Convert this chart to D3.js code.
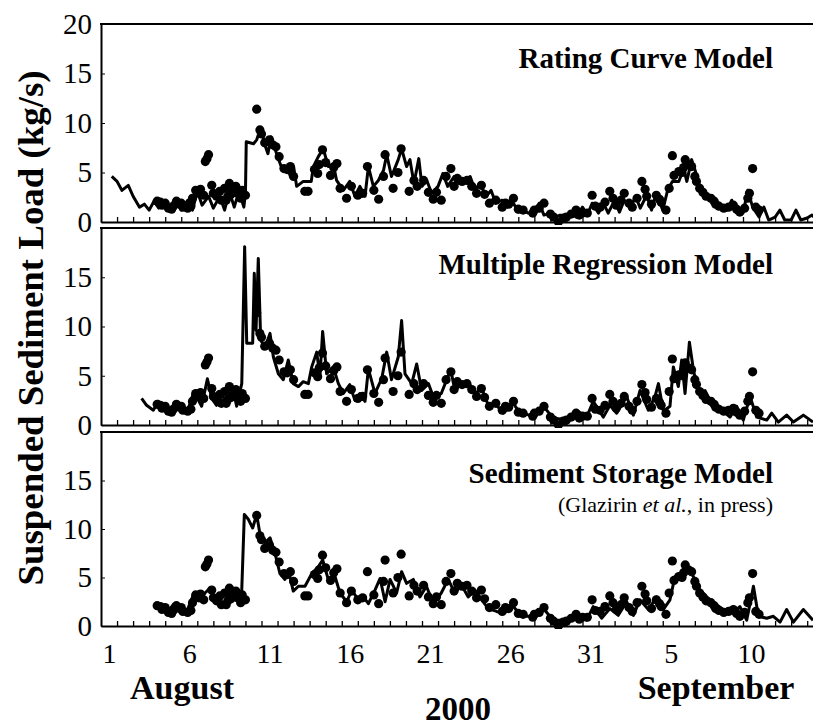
<!DOCTYPE html>
<html>
<head>
<meta charset="utf-8">
<script src="https://cdn.jsdelivr.net/npm/d3@7"></script>
<style>
  body { margin: 0; background: #fff; }
  text { font-family: "Liberation Serif", "Times New Roman", serif; }
</style>
</head>
<body>
<div id="chart"></div>
<script>
// time axis: days since 1 August 2000, 00:00
var dayLabels = ["1", "6", "11", "16", "21", "26", "31", "5", "10"];
var dayLabelT = [0.5, 5.5, 10.5, 15.5, 20.5, 25.5, 30.5, 35.5, 40.5];
var monthLabels = ["August", "September"];
var yearLabel = "2000";
var yTitle = "Suspended Sediment Load (kg/s)";

var panelTitles = ["Rating Curve Model", "Multiple Regression Model", "Sediment Storage Model"];
var panelTicks = [[0, 5, 10, 15, 20], [0, 5, 10, 15], [0, 5, 10, 15]];

// observed load [day, kg/s] (dots, same in all panels)
var observed = [
  [3.5,2.1],[3.7,2.0],[3.8,1.7],[4.0,1.9],[4.2,1.4],[4.4,1.3],[4.5,1.6],[4.7,2.1],[4.9,1.8],[5.0,1.9],
  [5.1,1.5],[5.4,1.4],[5.6,1.6],[5.7,2.4],[5.9,3.2],[6.1,2.9],[6.2,3.3],[6.4,2.7],[6.5,6.1],[6.6,6.4],
  [6.7,6.8],[6.9,3.7],[7.0,2.9],[7.2,2.6],[7.4,3.1],[7.5,2.2],[7.7,3.4],[7.8,2.2],[7.9,2.6],[8.0,3.9],
  [8.1,2.8],[8.2,3.1],[8.3,3.4],[8.4,3.6],[8.5,2.9],[8.7,2.4],[8.8,3.2],[9.0,2.7],
  [9.7,11.4],[9.9,9.3],[10.0,8.9],[10.2,8.0],[10.5,8.3],[10.7,7.8],[10.9,7.6],[11.1,6.6],[11.4,5.4],
  [11.6,5.3],[11.8,5.6],[12.0,4.6],[12.7,3.1],[12.9,3.1],[13.3,5.3],[13.5,4.9],[13.6,5.8],[13.8,7.3],
  [14.0,6.0],[14.3,4.7],[14.5,5.5],[14.7,5.9],[14.9,3.4],[15.3,2.4],[15.6,3.6],[16.0,2.7],[16.3,2.9],
  [16.6,5.6],[17.0,3.2],[17.3,2.3],[17.6,4.6],[17.7,6.8],[18.2,3.4],[18.5,5.0],[18.7,7.4],[19.2,3.1],
  [19.5,4.2],[19.7,3.6],[20.1,4.2],[20.4,3.0],[20.7,2.3],[20.9,3.0],[21.2,2.2],[21.5,4.6],[21.8,5.4],
  [22.0,3.6],[22.2,4.4],[22.5,4.1],[22.8,4.2],[23.1,3.6],[23.4,2.9],[23.7,3.7],[23.9,2.8],[24.2,1.9],
  [24.6,2.2],[25.0,1.5],[25.2,1.9],[25.4,1.8],[25.7,2.4],[26.0,1.3],[26.3,1.2],[26.9,0.9],[27.0,1.2],
  [27.3,1.4],[27.6,1.9],[28.0,0.8],[28.2,0.5],[28.5,0.0],[28.8,0.4],[29.0,0.5],[29.3,0.8],[29.6,1.2],
  [29.8,0.7],[30.0,0.9],[30.3,0.9],[30.6,2.7],[30.8,1.6],[31.1,1.5],[31.4,2.0],[31.7,3.1],[31.9,2.4],
  [32.1,1.7],[32.4,2.2],[32.6,2.9],[32.9,1.9],[33.1,1.5],[33.4,2.4],[33.7,4.1],[33.9,3.3],[34.0,2.6],
  [34.3,1.8],[34.6,2.7],[34.8,2.3],[34.9,2.0],[35.2,1.2],[35.4,3.4],[35.6,6.7],[35.7,4.7],[36.0,5.1],
  [36.2,5.0],[36.3,5.5],[36.4,6.3],[36.6,5.8],[36.8,5.6],[37.0,4.6],[37.1,4.1],[37.3,3.4],[37.5,3.0],
  [37.7,2.6],[38.0,2.4],[38.2,2.1],[38.3,1.8],[38.5,1.6],[38.8,1.4],[39.1,1.5],[39.4,1.7],[39.6,1.3],
  [39.8,1.0],[40.1,1.4],[40.3,2.4],[40.4,2.9],[40.6,5.4],[40.8,1.5],[41.0,1.2]
];

// modelled load [day, kg/s]
var ratingCurve = [
  [0.67,4.6],[1.0,4.1],[1.3,3.2],[1.7,3.7],[2.0,2.6],[2.4,1.5],[2.7,1.8],[3.0,1.2],[3.3,2.1],[3.6,1.4],
  [4.0,2.1],[4.3,1.2],[4.7,2.2],[5.0,1.2],[5.4,2.2],[5.7,1.2],[6.0,3.1],[6.3,1.7],[6.7,2.6],[7.0,1.4],
  [7.4,2.6],[7.7,1.2],[8.0,3.1],[8.3,1.5],[8.6,3.1],[8.9,1.5],[9.0,2.9],[9.05,8.1],[9.5,7.9],[9.7,8.3],
  [9.95,9.5],[10.25,7.6],[10.4,6.9],[10.6,8.6],[10.8,7.6],[11.0,6.6],[11.3,5.3],[11.6,5.6],[11.8,4.6],
  [12.0,5.6],[12.19,3.6],[12.6,4.1],[13.1,4.1],[13.23,5.6],[13.54,6.6],[13.85,7.4],[14.16,5.6],[14.47,5.9],
  [14.68,4.2],[15.1,3.2],[15.5,4.1],[15.82,2.6],[16.13,3.6],[16.45,2.6],[16.66,5.6],[16.97,3.6],[17.28,4.2],
  [17.6,5.2],[17.8,6.8],[18.1,4.6],[18.52,6.3],[18.73,7.4],[19.04,5.6],[19.25,6.3],[19.5,3.9],[19.8,6.4],
  [20.0,3.6],[20.3,4.2],[20.6,2.9],[21.0,3.6],[21.3,4.9],[21.6,3.6],[22.0,4.6],[22.3,3.9],[22.6,4.2],
  [23.0,4.6],[23.3,3.2],[23.6,3.9],[24.0,2.6],[24.3,3.2],[24.6,1.9],[25.0,2.2],[25.3,1.5],[25.6,2.2],
  [26.0,1.0],[26.3,1.2],[26.6,0.9],[27.0,0.9],[27.3,1.9],[27.6,0.7],[28.0,0.9],[28.3,0.5],[28.6,0.7],
  [29.0,0.5],[29.3,0.9],[29.6,0.5],[30.0,1.5],[30.3,0.7],[30.6,1.9],[31.0,0.9],[31.3,1.9],[31.6,0.9],
  [32.0,2.2],[32.3,1.0],[32.6,2.2],[33.0,1.4],[33.3,2.6],[33.6,1.4],[34.0,2.7],[34.3,1.2],[34.6,2.9],
  [35.0,1.2],[35.3,3.2],[35.6,4.1],[36.0,4.1],[36.3,5.4],[36.5,4.1],[36.8,6.3],[37.0,5.3],[37.3,3.6],
  [37.6,3.1],[38.0,2.2],[38.3,1.9],[38.6,1.5],[39.0,1.2],[39.3,2.2],[39.6,0.9],[40.0,0.9],[40.3,3.2],
  [40.6,1.5],[41.0,0.5],[41.3,1.5],[41.6,0.2],[42.0,0.5],[42.3,1.2],[42.6,0.2],[43.0,0.2],[43.3,1.2],
  [43.6,0.2],[44.0,0.4],[44.3,0.7],[44.6,0.2]
];

var multipleRegression = [
  [2.53,2.7],[2.84,2.0],[3.26,1.5],[3.57,2.4],[3.88,1.7],[4.19,1.2],[4.6,2.2],[5.03,1.5],[5.34,1.2],
  [5.75,3.2],[6.07,2.5],[6.27,1.9],[6.63,4.7],[6.9,2.7],[7.2,2.0],[7.52,3.0],[7.83,2.4],[8.25,3.5],
  [8.45,1.9],[8.77,4.2],[8.95,18.1],[9.08,8.3],[9.28,8.3],[9.45,8.3],[9.55,15.4],[9.66,9.6],[9.8,16.9],
  [9.95,8.6],[10.22,7.9],[10.53,9.3],[10.74,6.9],[11.05,5.2],[11.36,4.6],[11.67,6.6],[11.98,4.2],
  [12.3,3.9],[12.6,4.4],[12.92,4.2],[13.13,5.9],[13.44,7.4],[13.64,4.9],[13.81,9.5],[14.06,5.2],
  [14.47,5.9],[14.79,4.2],[15.1,3.2],[15.5,4.1],[15.82,2.5],[16.13,3.2],[16.45,2.4],[16.66,5.7],
  [17.07,3.2],[17.49,4.7],[17.8,7.4],[18.1,4.6],[18.52,6.9],[18.73,10.6],[18.94,5.2],[19.36,4.2],
  [19.67,6.2],[19.98,3.5],[20.4,4.2],[20.7,2.9],[21.2,3.2],[21.54,4.6],[21.79,5.6],[22.05,3.5],
  [22.47,4.2],[22.88,4.4],[23.3,3.2],[23.72,3.7],[24.13,2.0],[24.65,2.0],[25.07,1.2],[25.69,2.2],
  [26.1,1.2],[26.73,1.0],[27.56,1.9],[28.18,0.7],[29.01,0.5],[29.63,1.5],[30.26,0.8],[30.67,2.4],
  [31.3,0.8],[31.71,2.0],[32.13,1.2],[32.75,2.9],[33.17,1.0],[33.58,3.5],[34.1,1.5],[34.52,2.9],
  [34.73,4.2],[35.04,1.4],[35.45,1.9],[35.66,5.9],[35.97,3.9],[36.18,6.6],[36.39,3.2],[36.66,8.4],
  [36.91,5.6],[37.22,3.2],[37.63,3.5],[38.05,2.2],[38.57,1.7],[39.19,0.8],[39.61,1.9],[40.02,0.5],
  [40.44,2.9],[40.85,0.8],[41.48,0.5],[41.79,1.2],[42.2,0.3],[42.72,1.0],[43.14,0.3],[43.76,1.0],
  [44.36,0.3]
];

var sedimentStorage = [
  [3.26,2.2],[3.68,2.0],[4.09,1.3],[4.5,2.2],[4.92,1.7],[5.34,1.5],[5.75,3.2],[6.17,2.7],[6.48,3.4],
  [6.79,3.9],[7.1,2.5],[7.52,3.0],[8.04,3.4],[8.45,2.7],[8.77,3.7],[8.93,11.5],[9.18,11.0],[9.45,10.1],
  [9.7,11.5],[9.91,9.4],[10.22,8.6],[10.53,9.1],[10.84,7.5],[11.15,5.4],[11.46,4.8],[11.67,5.8],
  [11.98,3.6],[12.3,4.1],[12.71,4.1],[13.13,5.4],[13.54,6.1],[13.81,6.8],[14.16,4.8],[14.58,5.1],
  [14.89,3.4],[15.31,2.5],[15.62,3.7],[16.04,2.7],[16.35,3.0],[16.66,2.3],[17.07,3.7],[17.39,4.9],
  [17.7,2.5],[18.01,4.8],[18.42,3.4],[18.73,5.6],[19.04,4.4],[19.46,4.8],[19.87,3.0],[20.28,4.1],
  [20.7,2.3],[21.2,3.4],[21.63,4.8],[22.05,3.4],[22.47,4.2],[22.88,3.0],[23.3,3.7],[23.72,2.7],
  [24.13,1.8],[24.65,1.5],[25.07,1.3],[25.69,2.0],[26.21,1.0],[26.83,1.0],[27.56,1.8],[28.18,0.6],
  [29.01,0.6],[29.63,1.3],[30.26,0.6],[30.67,2.0],[31.19,0.8],[31.71,1.8],[32.23,1.1],[32.75,2.5],
  [33.17,1.1],[33.58,2.7],[34.1,1.7],[34.62,3.0],[35.04,1.7],[35.45,2.7],[35.76,5.1],[36.18,5.1],
  [36.49,6.1],[36.91,5.1],[37.32,3.7],[37.74,3.0],[38.26,2.3],[38.77,1.7],[39.4,1.3],[39.81,2.0],
  [40.23,0.6],[40.65,4.1],[40.96,1.0],[41.48,0.8],[41.89,1.0],[42.31,0.4],[42.72,1.7],[43.14,0.4],
  [43.76,1.7],[44.36,0.6]
];

var models = [ratingCurve, multipleRegression, sedimentStorage];

// layout
var svgWidth = 813;
var svgHeight = 728;
var plotLeft = 101;
var pxPerDay = 16.05;
var panels = [
  { top: 24, bottom: 222, titleY: 68 },
  { top: 228, bottom: 425, titleY: 274 },
  { top: 432, bottom: 626, titleY: 483 }
];

var svg = d3.select("#chart")
  .append("svg")
  .attr("width", svgWidth)
  .attr("height", svgHeight);

var x = d3.scaleLinear()
  .domain([0, 45])
  .range([plotLeft, plotLeft + 45 * pxPerDay]);

panels.forEach(function(p, i) {
  var y = d3.scaleLinear().domain([0, 20]).range([p.bottom, p.top]);
  var g = svg.append("g");

  g.append("clipPath").attr("id", "clip" + i)
    .append("rect")
    .attr("x", plotLeft).attr("y", p.top)
    .attr("width", svgWidth - plotLeft).attr("height", p.bottom - p.top + 3);

  // top frame line
  g.append("line")
    .attr("x1", plotLeft - 1).attr("x2", svgWidth)
    .attr("y1", p.top).attr("y2", p.top)
    .attr("stroke", "#000").attr("stroke-width", 2);

  // bottom axis with daily ticks pointing inward
  var xAxis = g.append("g")
    .attr("transform", `translate(0, ${p.bottom})`)
    .call(d3.axisBottom(x).tickValues(d3.range(1, 45)).tickSize(-5).tickSizeOuter(0).tickFormat(""));
  xAxis.select(".domain").attr("stroke-width", 2);
  xAxis.selectAll(".tick line").attr("stroke-width", 1.3);

  // left axis
  var yAxis = g.append("g")
    .attr("transform", `translate(${plotLeft}, 0)`)
    .call(d3.axisLeft(y).tickValues(panelTicks[i]).tickSize(-4).tickSizeOuter(0).tickPadding(9));
  yAxis.select(".domain").attr("stroke-width", 2);
  yAxis.attr("font-family", null).attr("font-size", null);
  yAxis.selectAll("text")
    .style("font-size", "29px")
    .attr("fill", "#000");

  var plot = g.append("g").attr("clip-path", `url(#clip${i})`);

  plot.append("path")
    .datum(models[i])
    .attr("fill", "none")
    .attr("stroke", "#000")
    .attr("stroke-width", 3)
    .attr("stroke-linejoin", "round")
    .attr("d", d3.line().x(d => x(d[0])).y(d => y(d[1])));

  plot.selectAll(".obs")
    .data(observed)
    .enter()
    .append("circle")
    .attr("class", "obs")
    .attr("cx", d => x(d[0]))
    .attr("cy", d => y(d[1]))
    .attr("r", 4.6)
    .attr("fill", "#000");

  // panel title
  g.append("text")
    .attr("x", 773).attr("y", p.titleY)
    .attr("text-anchor", "end")
    .style("font-size", "29px")
    .style("font-weight", "bold")
    .text(panelTitles[i]);
});

// citation under the third title
var cite = svg.append("text")
  .attr("x", 773).attr("y", 512)
  .attr("text-anchor", "end")
  .style("font-size", "22px");
cite.append("tspan").text("(Glazirin ");
cite.append("tspan").style("font-style", "italic").text("et al.");
cite.append("tspan").text(", in press)");

// day labels under the bottom panel
var labelAxis = svg.append("g")
  .attr("transform", `translate(0, ${panels[2].bottom})`)
  .call(d3.axisBottom(x).tickValues(dayLabelT).tickSize(0).tickPadding(17)
    .tickFormat((d, i) => dayLabels[i]));
labelAxis.select(".domain").remove();
labelAxis.attr("font-family", null).attr("font-size", null);
labelAxis.selectAll("text").style("font-size", "28px").attr("fill", "#000");

// month and year labels
svg.append("text")
  .attr("x", 182).attr("y", 699)
  .attr("text-anchor", "middle")
  .style("font-size", "34px").style("font-weight", "bold")
  .text(monthLabels[0]);

svg.append("text")
  .attr("x", 716).attr("y", 699)
  .attr("text-anchor", "middle")
  .style("font-size", "34px").style("font-weight", "bold")
  .text(monthLabels[1]);

svg.append("text")
  .attr("x", 458).attr("y", 720)
  .attr("text-anchor", "middle")
  .style("font-size", "33px").style("font-weight", "bold")
  .text(yearLabel);

// y axis title
svg.append("text")
  .attr("transform", "translate(43, 328) rotate(-90)")
  .attr("text-anchor", "middle")
  .attr("textLength", 515)
  .attr("lengthAdjust", "spacingAndGlyphs")
  .style("font-size", "36px").style("font-weight", "bold")
  .text(yTitle);
</script>
</body>
</html>
